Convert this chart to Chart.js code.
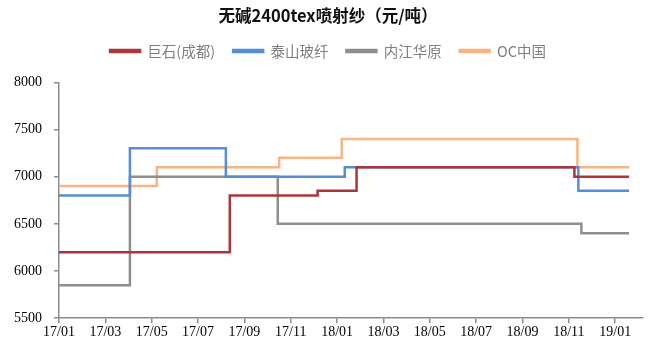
<!DOCTYPE html>
<html>
<head>
<meta charset="utf-8">
<script src="https://cdn.jsdelivr.net/npm/chart.js@4/dist/chart.umd.min.js"></script>
<style>
  html, body { margin: 0; padding: 0; background: #fff; }
  canvas { display: block; }
</style>
</head>
<body>
<canvas id="LineChart" width="652" height="342"></canvas>
<script>
// x = months since 2017/01, each point is where the new price starts
var seriesNames = ['巨石(成都)', '泰山玻纤', '内江华原', 'OC中国'];
var seriesColors = ['#AA363B', '#558ED5', '#8E8E8E', '#F9B483'];

var jushiX = [0, 7.37, 11.16, 12.84, 22.24, 24.6];
var jushiY = [6200, 6800, 6850, 7100, 7000, 7000];

var taishanX = [0, 3.06, 7.2, 12.33, 22.41, 24.6];
var taishanY = [6800, 7300, 7000, 7100, 6850, 6850];

var neijiangX = [0, 3.06, 9.44, 22.54, 24.6];
var neijiangY = [5850, 7000, 6500, 6400, 6400];

var ocX = [0, 4.22, 9.5, 12.2, 22.37, 24.6];
var ocY = [6900, 7100, 7200, 7400, 7100, 7100];

var yTicks = [5500, 6000, 6500, 7000, 7500, 8000];

function toPoints(xs, ys){
	var pts = [];
	for (var i = 0; i < xs.length; i++) {
		pts.push({x: xs[i], y: ys[i]});
	}
	return pts;
}

function monthLabel(v){
	var yy = 17 + Math.floor(v / 12);
	var mm = (v % 12) + 1;
	return yy + '/' + (mm < 10 ? '0' + mm : mm);
}

var allX = [jushiX, taishanX, neijiangX, ocX];
var allY = [jushiY, taishanY, neijiangY, ocY];
var datasets = [];
for (var i = 0; i < seriesNames.length; i++) {
	datasets.push({
		label: seriesNames[i],
		data: toPoints(allX[i], allY[i]),
		borderColor: seriesColors[i],
		backgroundColor: seriesColors[i],
		borderWidth: 2.5,
		pointRadius: 0,
		stepped: 'before',
		fill: false
	});
}

var axisColor = '#8C8C8C';
var serif = '"Liberation Serif", "Times New Roman", serif';
var cjk = '"Noto Sans CJK SC", sans-serif';

// extra room between legend and plot
var legendGap = {
	id: 'legendGap',
	beforeInit: function(chart){
		var fit = chart.legend.fit;
		chart.legend.fit = function(){
			fit.bind(chart.legend)();
			this.height += 14;
		};
	}
};

new Chart(document.getElementById('LineChart'), {
	type: 'line',
	data: { datasets: datasets },
	plugins: [legendGap],
	options: {
		responsive: false,
		animation: false,
		layout: { padding: { left: 13, right: 9, top: 4, bottom: 0 } },
		plugins: {
			title: {
				display: true,
				text: '无碱2400tex喷射纱（元/吨）',
				color: '#111',
				font: { family: cjk, size: 16.5, weight: 'bold' },
				padding: { top: 2, bottom: 0 }
			},
			legend: {
				display: true,
				labels: {
					boxWidth: 30,
					boxHeight: 2,
					color: '#7F7F7F',
					padding: 18,
					font: { family: cjk, size: 14.5 }
				}
			},
			tooltip: { enabled: false }
		},
		scales: {
			x: {
				type: 'linear',
				min: 0,
				max: 25.2,
				border: { display: true, color: axisColor, width: 1.5 },
				grid: { drawOnChartArea: false, drawTicks: true, tickLength: 5, color: axisColor, lineWidth: 1.5 },
				afterBuildTicks: function(axis){
					var t = [];
					for (var v = 0; v <= 24; v += 2) t.push({value: v});
					axis.ticks = t;
				},
				ticks: {
					color: '#000',
					maxRotation: 0,
					autoSkip: false,
					padding: 1,
					font: { family: serif, size: 14 },
					callback: function(v){ return monthLabel(v); }
				}
			},
			y: {
				min: 5500,
				max: 8000,
				border: { display: true, color: axisColor, width: 1.5 },
				grid: { drawOnChartArea: false, drawTicks: true, tickLength: 5, color: axisColor, lineWidth: 1.5 },
				afterBuildTicks: function(axis){
					axis.ticks = yTicks.map(function(v){ return {value: v}; });
				},
				afterFit: function(axis){
					axis.width = 46;
				},
				ticks: {
					color: '#000',
					padding: 12,
					font: { family: serif, size: 14 },
					callback: function(v){ return String(v); }
				}
			}
		}
	}
});
</script>
</body>
</html>
